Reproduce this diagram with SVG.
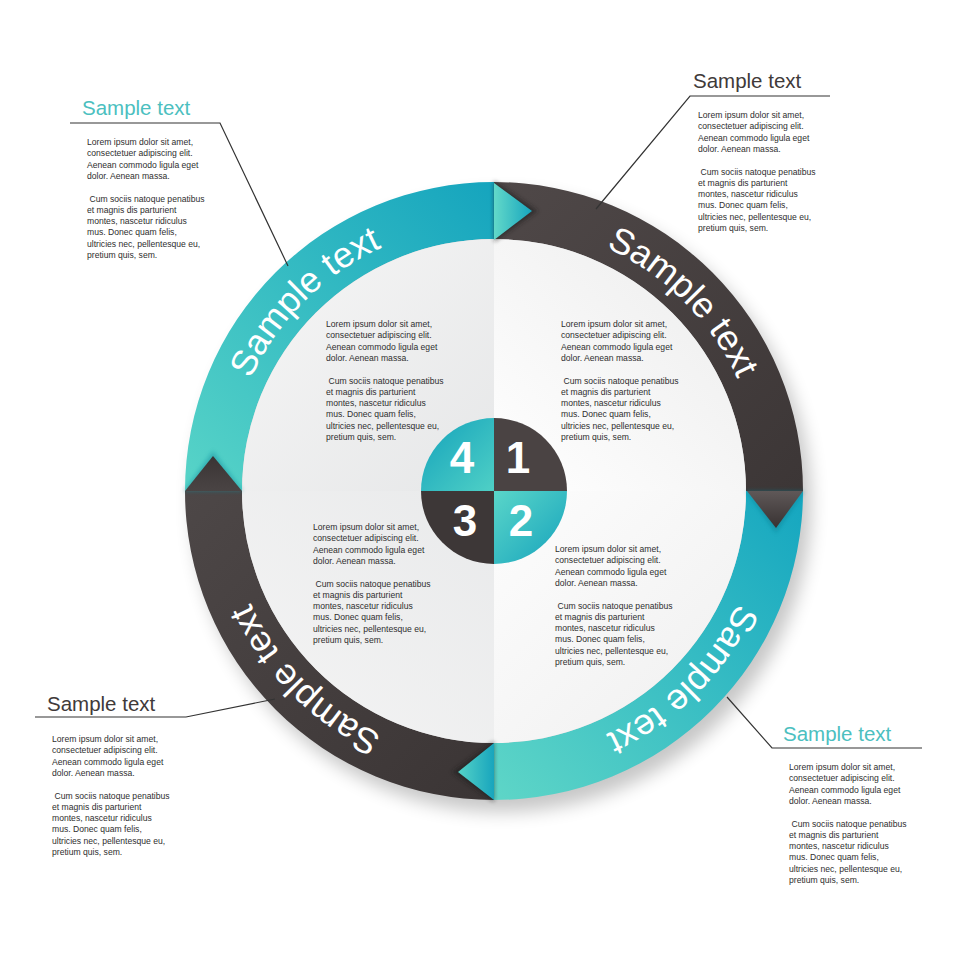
<svg xmlns="http://www.w3.org/2000/svg" width="980" height="980" viewBox="0 0 980 980">
<defs>
<style>
.body{font-family:"Liberation Sans",Arial,sans-serif;font-size:8.6px;fill:#2e2e2e}
.head{font-family:"Liberation Sans",Arial,sans-serif;font-size:20.5px}
.ring{font-family:"Liberation Sans",Arial,sans-serif;font-size:36px;fill:#ffffff}
.num{font-family:"Liberation Sans",Arial,sans-serif;font-size:44px;font-weight:bold;fill:#ffffff;text-anchor:middle}
.lead{fill:none;stroke:#333333;stroke-width:1.2}
</style>
<linearGradient id="tealTL" gradientUnits="userSpaceOnUse" x1="200" y1="480" x2="494" y2="190"><stop offset="0" stop-color="#55d2c7"/><stop offset="1" stop-color="#16a5be"/></linearGradient>
<linearGradient id="tealBR" gradientUnits="userSpaceOnUse" x1="800" y1="500" x2="494" y2="790"><stop offset="0" stop-color="#16a7c0"/><stop offset="1" stop-color="#5dd5c7"/></linearGradient>
<linearGradient id="grayTR" gradientUnits="userSpaceOnUse" x1="494" y1="190" x2="800" y2="491"><stop offset="0" stop-color="#4f4848"/><stop offset="1" stop-color="#3c3636"/></linearGradient>
<linearGradient id="grayBL" gradientUnits="userSpaceOnUse" x1="494" y1="790" x2="190" y2="491"><stop offset="0" stop-color="#3b3535"/><stop offset="1" stop-color="#4d4747"/></linearGradient>
<linearGradient id="qTL" x1="0" y1="0" x2="1" y2="1"><stop offset="0" stop-color="#f6f6f6"/><stop offset="1" stop-color="#e6e7e8"/></linearGradient>
<linearGradient id="qTR" x1="0" y1="1" x2="1" y2="0"><stop offset="0" stop-color="#ffffff"/><stop offset="1" stop-color="#ececec"/></linearGradient>
<linearGradient id="qBL" x1="1" y1="0" x2="0" y2="1"><stop offset="0" stop-color="#e9eaeb"/><stop offset="1" stop-color="#f4f4f4"/></linearGradient>
<linearGradient id="qBR" x1="0" y1="0" x2="1" y2="1"><stop offset="0" stop-color="#fdfdfd"/><stop offset="1" stop-color="#efefef"/></linearGradient>
<linearGradient id="cTeal1" x1="0" y1="0" x2="1" y2="1"><stop offset="0" stop-color="#14a2bb"/><stop offset="1" stop-color="#4fd0c6"/></linearGradient>
<linearGradient id="cTeal2" x1="0" y1="0" x2="1" y2="1"><stop offset="0" stop-color="#5ad6c9"/><stop offset="1" stop-color="#15a2bc"/></linearGradient>
<linearGradient id="triTop" x1="0" y1="0" x2="1" y2="0"><stop offset="0" stop-color="#63d9c9"/><stop offset="1" stop-color="#16a5be"/></linearGradient>
<linearGradient id="triBot" x1="0" y1="0" x2="1" y2="0"><stop offset="0" stop-color="#55d3c7"/><stop offset="1" stop-color="#18a5bd"/></linearGradient>
<linearGradient id="triGray" x1="0" y1="0" x2="0" y2="1"><stop offset="0" stop-color="#5f5858"/><stop offset="1" stop-color="#383232"/></linearGradient>
<linearGradient id="triGrayUp" x1="0" y1="1" x2="0" y2="0"><stop offset="0" stop-color="#4a4444"/><stop offset="1" stop-color="#3a3434"/></linearGradient>
<filter id="blur" x="-20%" y="-20%" width="140%" height="140%"><feGaussianBlur stdDeviation="9"/></filter>
<filter id="sblur" x="-50%" y="-50%" width="200%" height="200%"><feGaussianBlur stdDeviation="2"/></filter>
<path id="ringPath" d="M 762 491 A 268 268 0 1 1 226 491 A 268 268 0 1 1 762 491"/>
</defs>
<rect width="980" height="980" fill="#ffffff"/>

<circle cx="502" cy="503" r="309" fill="#000" opacity="0.22" filter="url(#blur)"/>

<g id="ring">
<g id="seg-tl"><path d="M 185 491 A 309 309 0 0 1 494 182 L 494 239 A 252 252 0 0 0 242 491 Z" fill="url(#tealTL)"/></g>
<g id="seg-tr"><path d="M 494 182 A 309 309 0 0 1 803 491 L 746 491 A 252 252 0 0 0 494 239 Z" fill="url(#grayTR)"/></g>
<g id="seg-br"><path d="M 803 491 A 309 309 0 0 1 494 800 L 494 743 A 252 252 0 0 0 746 491 Z" fill="url(#tealBR)"/></g>
<g id="seg-bl"><path d="M 494 800 A 309 309 0 0 1 185 491 L 242 491 A 252 252 0 0 0 494 743 Z" fill="url(#grayBL)"/></g>
</g>

<g id="quadrants">
<path d="M 494 491 L 242 491 A 252 252 0 0 1 494 239 Z" fill="url(#qTL)"/>
<path d="M 494 491 L 494 239 A 252 252 0 0 1 746 491 Z" fill="url(#qTR)"/>
<path d="M 494 491 L 746 491 A 252 252 0 0 1 494 743 Z" fill="url(#qBR)"/>
<path d="M 494 491 L 494 743 A 252 252 0 0 1 242 491 Z" fill="url(#qBL)"/>
</g>

<g id="arrows">
<path d="M 494 181 L 538 211 L 494 242 Z" fill="#1e1a1a" opacity="0.55" filter="url(#sblur)"/>
<path d="M 494 183 L 532 211 L 494 240 Z" fill="url(#triTop)"/>
<path d="M 746 491 L 804 491 L 776 533 Z" fill="#0f7f92" opacity="0.5" filter="url(#sblur)"/>
<path d="M 747 491 L 803 491 L 776 528 Z" fill="url(#triGray)"/>
<path d="M 494 741 L 452 772 L 494 802 Z" fill="#1e1a1a" opacity="0.55" filter="url(#sblur)"/>
<path d="M 494 743 L 458 772 L 494 800 Z" fill="url(#triBot)"/>
<path d="M 184 491 L 243 491 L 213 451 Z" fill="#138f9f" opacity="0.5" filter="url(#sblur)"/>
<path d="M 185 491 L 242 491 L 213 456 Z" fill="url(#triGrayUp)"/>
</g>

<g id="ring-labels">
<text class="ring" text-anchor="middle"><textPath href="#ringPath" startOffset="62.5%">Sample text</textPath></text>
<text class="ring" text-anchor="middle"><textPath href="#ringPath" startOffset="87.5%">Sample text</textPath></text>
<text class="ring" text-anchor="middle"><textPath href="#ringPath" startOffset="12.5%">Sample text</textPath></text>
<text class="ring" text-anchor="middle"><textPath href="#ringPath" startOffset="37.5%">Sample text</textPath></text>
</g>

<g id="hub">
<path d="M 494 491 L 421 491 A 73 73 0 0 1 494 418 Z" fill="url(#cTeal1)"/>
<path d="M 494 491 L 494 418 A 73 73 0 0 1 567 491 Z" fill="#4a4343"/>
<path d="M 494 491 L 567 491 A 73 73 0 0 1 494 564 Z" fill="url(#cTeal2)"/>
<path d="M 494 491 L 494 564 A 73 73 0 0 1 421 491 Z" fill="#3d3737"/>
<text class="num" x="462" y="473">4</text>
<text class="num" x="518" y="473">1</text>
<text class="num" x="465" y="536">3</text>
<text class="num" x="521" y="536">2</text>
</g>

<g id="inner-tl"><text class="body" x="326" y="327"><tspan x="326">Lorem ipsum dolor sit amet,</tspan><tspan x="326" dy="11.3">consectetuer adipiscing elit.</tspan><tspan x="326" dy="11.3">Aenean commodo ligula eget</tspan><tspan x="326" dy="11.3">dolor. Aenean massa.</tspan><tspan x="328.5" dy="22.6">Cum sociis natoque penatibus</tspan><tspan x="326" dy="11.3">et magnis dis parturient</tspan><tspan x="326" dy="11.3">montes, nascetur ridiculus</tspan><tspan x="326" dy="11.3">mus. Donec quam felis,</tspan><tspan x="326" dy="11.3">ultricies nec, pellentesque eu,</tspan><tspan x="326" dy="11.3">pretium quis, sem.</tspan></text></g>
<g id="inner-tr"><text class="body" x="561" y="327"><tspan x="561">Lorem ipsum dolor sit amet,</tspan><tspan x="561" dy="11.3">consectetuer adipiscing elit.</tspan><tspan x="561" dy="11.3">Aenean commodo ligula eget</tspan><tspan x="561" dy="11.3">dolor. Aenean massa.</tspan><tspan x="563.5" dy="22.6">Cum sociis natoque penatibus</tspan><tspan x="561" dy="11.3">et magnis dis parturient</tspan><tspan x="561" dy="11.3">montes, nascetur ridiculus</tspan><tspan x="561" dy="11.3">mus. Donec quam felis,</tspan><tspan x="561" dy="11.3">ultricies nec, pellentesque eu,</tspan><tspan x="561" dy="11.3">pretium quis, sem.</tspan></text></g>
<g id="inner-bl"><text class="body" x="313" y="530"><tspan x="313">Lorem ipsum dolor sit amet,</tspan><tspan x="313" dy="11.3">consectetuer adipiscing elit.</tspan><tspan x="313" dy="11.3">Aenean commodo ligula eget</tspan><tspan x="313" dy="11.3">dolor. Aenean massa.</tspan><tspan x="315.5" dy="22.6">Cum sociis natoque penatibus</tspan><tspan x="313" dy="11.3">et magnis dis parturient</tspan><tspan x="313" dy="11.3">montes, nascetur ridiculus</tspan><tspan x="313" dy="11.3">mus. Donec quam felis,</tspan><tspan x="313" dy="11.3">ultricies nec, pellentesque eu,</tspan><tspan x="313" dy="11.3">pretium quis, sem.</tspan></text></g>
<g id="inner-br"><text class="body" x="555" y="552"><tspan x="555">Lorem ipsum dolor sit amet,</tspan><tspan x="555" dy="11.3">consectetuer adipiscing elit.</tspan><tspan x="555" dy="11.3">Aenean commodo ligula eget</tspan><tspan x="555" dy="11.3">dolor. Aenean massa.</tspan><tspan x="557.5" dy="22.6">Cum sociis natoque penatibus</tspan><tspan x="555" dy="11.3">et magnis dis parturient</tspan><tspan x="555" dy="11.3">montes, nascetur ridiculus</tspan><tspan x="555" dy="11.3">mus. Donec quam felis,</tspan><tspan x="555" dy="11.3">ultricies nec, pellentesque eu,</tspan><tspan x="555" dy="11.3">pretium quis, sem.</tspan></text></g>

<g id="connectors">
<polyline class="lead" points="70,123 220,123 288,266"/>
<polyline class="lead" points="830,96 690,96 596,209"/>
<polyline class="lead" points="35,717 186,717 275,699"/>
<polyline class="lead" points="922,748 772,748 727,697"/>
</g>

<g id="callout-tl">
<text class="head" x="82" y="115" fill="#4cbfc0">Sample text</text>
<text class="body" x="87" y="145"><tspan x="87">Lorem ipsum dolor sit amet,</tspan><tspan x="87" dy="11.3">consectetuer adipiscing elit.</tspan><tspan x="87" dy="11.3">Aenean commodo ligula eget</tspan><tspan x="87" dy="11.3">dolor. Aenean massa.</tspan><tspan x="89.5" dy="22.6">Cum sociis natoque penatibus</tspan><tspan x="87" dy="11.3">et magnis dis parturient</tspan><tspan x="87" dy="11.3">montes, nascetur ridiculus</tspan><tspan x="87" dy="11.3">mus. Donec quam felis,</tspan><tspan x="87" dy="11.3">ultricies nec, pellentesque eu,</tspan><tspan x="87" dy="11.3">pretium quis, sem.</tspan></text>
</g>
<g id="callout-tr">
<text class="head" x="693" y="88" fill="#3f3a3a">Sample text</text>
<text class="body" x="698" y="118"><tspan x="698">Lorem ipsum dolor sit amet,</tspan><tspan x="698" dy="11.3">consectetuer adipiscing elit.</tspan><tspan x="698" dy="11.3">Aenean commodo ligula eget</tspan><tspan x="698" dy="11.3">dolor. Aenean massa.</tspan><tspan x="700.5" dy="22.6">Cum sociis natoque penatibus</tspan><tspan x="698" dy="11.3">et magnis dis parturient</tspan><tspan x="698" dy="11.3">montes, nascetur ridiculus</tspan><tspan x="698" dy="11.3">mus. Donec quam felis,</tspan><tspan x="698" dy="11.3">ultricies nec, pellentesque eu,</tspan><tspan x="698" dy="11.3">pretium quis, sem.</tspan></text>
</g>
<g id="callout-bl">
<text class="head" x="47" y="711" fill="#3f3a3a">Sample text</text>
<text class="body" x="52" y="742"><tspan x="52">Lorem ipsum dolor sit amet,</tspan><tspan x="52" dy="11.3">consectetuer adipiscing elit.</tspan><tspan x="52" dy="11.3">Aenean commodo ligula eget</tspan><tspan x="52" dy="11.3">dolor. Aenean massa.</tspan><tspan x="54.5" dy="22.6">Cum sociis natoque penatibus</tspan><tspan x="52" dy="11.3">et magnis dis parturient</tspan><tspan x="52" dy="11.3">montes, nascetur ridiculus</tspan><tspan x="52" dy="11.3">mus. Donec quam felis,</tspan><tspan x="52" dy="11.3">ultricies nec, pellentesque eu,</tspan><tspan x="52" dy="11.3">pretium quis, sem.</tspan></text>
</g>
<g id="callout-br">
<text class="head" x="783" y="741" fill="#4cbfc0">Sample text</text>
<text class="body" x="789" y="770"><tspan x="789">Lorem ipsum dolor sit amet,</tspan><tspan x="789" dy="11.3">consectetuer adipiscing elit.</tspan><tspan x="789" dy="11.3">Aenean commodo ligula eget</tspan><tspan x="789" dy="11.3">dolor. Aenean massa.</tspan><tspan x="791.5" dy="22.6">Cum sociis natoque penatibus</tspan><tspan x="789" dy="11.3">et magnis dis parturient</tspan><tspan x="789" dy="11.3">montes, nascetur ridiculus</tspan><tspan x="789" dy="11.3">mus. Donec quam felis,</tspan><tspan x="789" dy="11.3">ultricies nec, pellentesque eu,</tspan><tspan x="789" dy="11.3">pretium quis, sem.</tspan></text>
</g>
</svg>
